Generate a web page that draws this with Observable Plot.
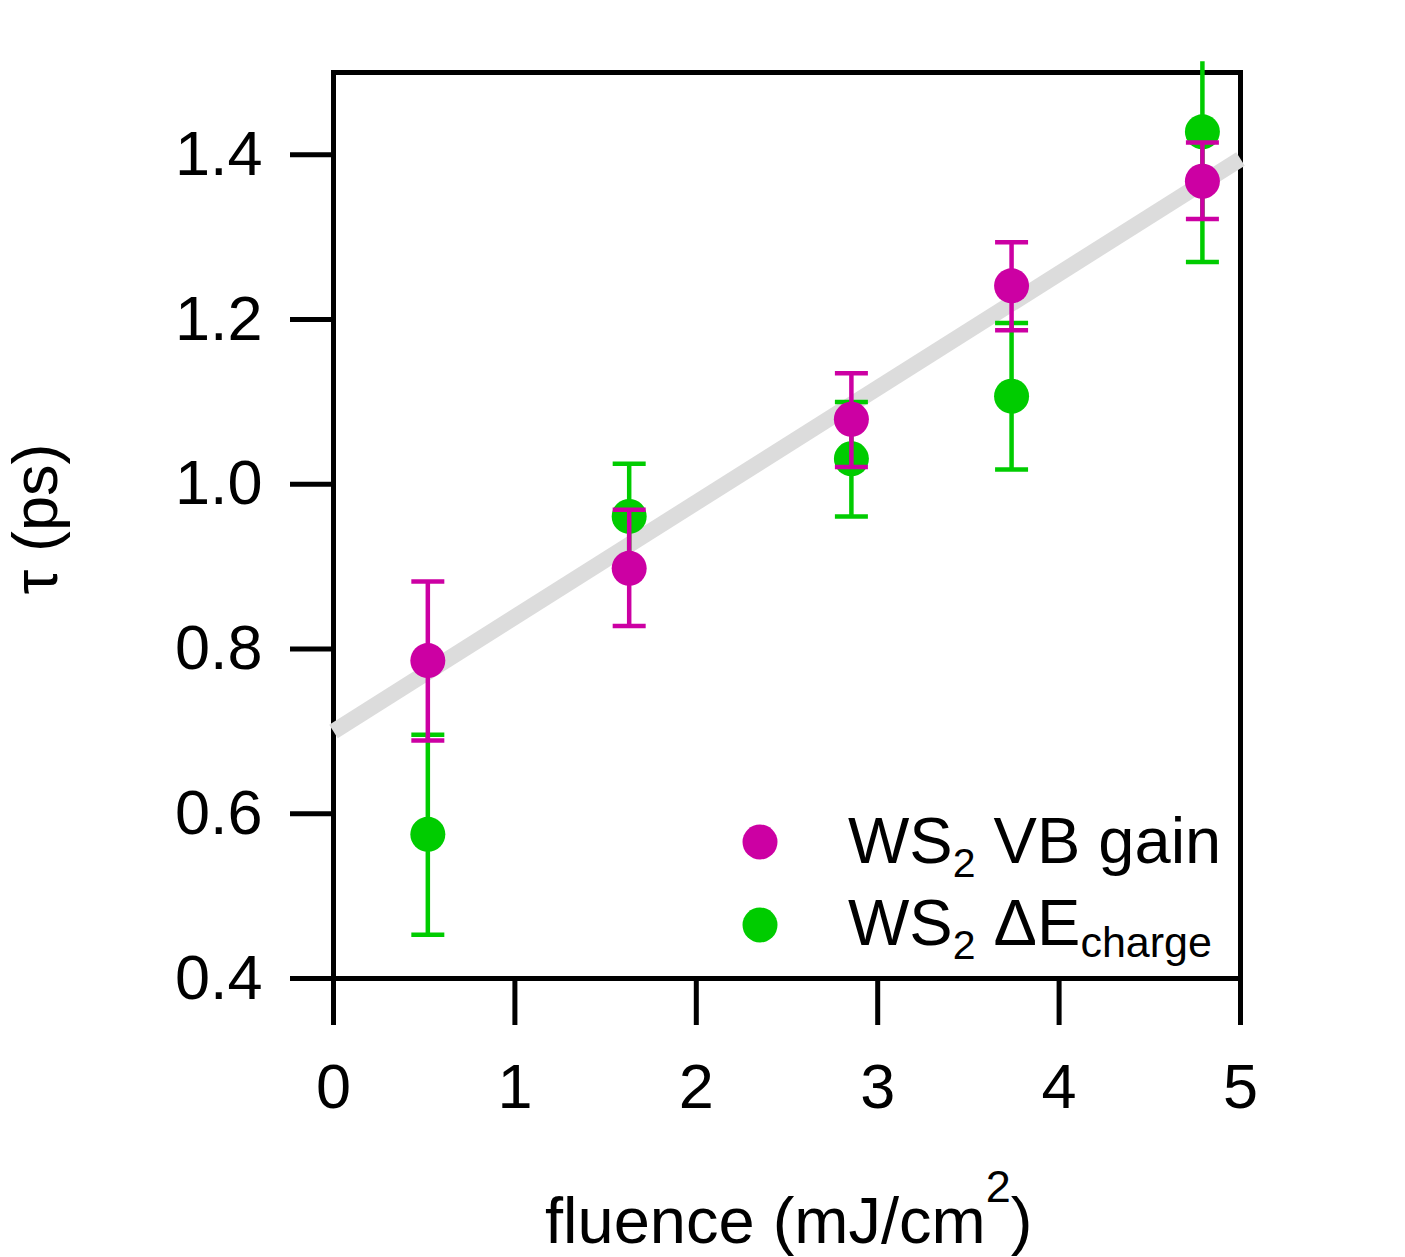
<!DOCTYPE html>
<html><head><meta charset="utf-8">
<script src="https://cdn.jsdelivr.net/npm/d3@7"></script>
<script src="https://cdn.jsdelivr.net/npm/@observablehq/plot@0.6"></script>
<style>body{margin:0;background:#fff;}</style>
</head><body><div id="chart"></div>
<script>
const fluence = [0.52, 1.63, 2.855, 3.738, 4.79];
const vbTau = [0.786, 0.898, 1.079, 1.241, 1.368];
const vbLo  = [0.689, 0.828, 1.021, 1.187, 1.322];
const vbHi  = [0.882, 0.969, 1.135, 1.294, 1.415];
const chTau = [0.575, 0.961, 1.031, 1.107, 1.428];
const chLo  = [0.453, 0.897, 0.961, 1.018, 1.270];
const chHi  = [0.696, 1.025, 1.100, 1.196, 1.513];
const fitX = [0, 5];
const fitY = [0.70, 1.395];
const xTicks = [0, 1, 2, 3, 4, 5];
const yTicks = [0.4, 0.6, 0.8, 1.0, 1.2, 1.4];

const MAG = "#cc00a3", GRN = "#00cc00";
const vb = fluence.map((x, i) => ({x, y: vbTau[i], lo: vbLo[i], hi: vbHi[i]}));
const ch = fluence.map((x, i) => ({x, y: chTau[i], lo: chLo[i], hi: chHi[i]}));
const fit = fitX.map((x, i) => ({x, y: fitY[i]}));
const yMax = 1.5;

const cap = {draw(ctx) { ctx.moveTo(-16.5, 0); ctx.lineTo(16.5, 0); }};

function errMarks(data, color) {
  return [
    Plot.ruleX(data, {x: "x", y1: "lo", y2: "hi", stroke: color, strokeWidth: 4.5}),
    Plot.dot(data.filter(d => d.hi <= yMax), {x: "x", y: "hi", symbol: cap, stroke: color, strokeWidth: 4.5, fill: "none"}),
    Plot.dot(data, {x: "x", y: "lo", symbol: cap, stroke: color, strokeWidth: 4.5, fill: "none"})
  ];
}

const svg = Plot.plot({
  width: 1405, height: 1257,
  marginLeft: 333, marginRight: 165, marginTop: 72, marginBottom: 279,
  style: {fontFamily: "Liberation Sans, Arial, sans-serif", background: "#fff", color: "#000"},
  x: {domain: [0, 5]},
  y: {domain: [0.4, yMax]},
  marks: [
    Plot.axisX({ticks: xTicks, tickSize: 47, tickPadding: 38, fontSize: 63, strokeWidth: 5, label: null, tickFormat: d3.format("d")}),
    Plot.axisY({ticks: yTicks, tickSize: 43, tickPadding: 28, fontSize: 63, strokeWidth: 5, label: null, tickFormat: d3.format(".1f")}),
    Plot.frame({stroke: "#000", strokeWidth: 5}),
    Plot.line(fit, {x: "x", y: "y", stroke: "#dcdcdc", strokeWidth: 16, strokeLinecap: "butt"}),
    ...errMarks(ch, GRN),
    Plot.dot(ch, {x: "x", y: "y", r: 17.5, fill: GRN}),
    ...errMarks(vb, MAG),
    Plot.dot(vb, {x: "x", y: "y", r: 17.5, fill: MAG})
  ]
});

const s = d3.select(svg);
const FF = "Liberation Sans, Arial, sans-serif";
// x label
const xl = s.append("text").attr("x", 545).attr("y", 1243).attr("text-anchor", "start")
  .attr("font-size", 65).attr("font-family", FF).attr("fill", "#000");
xl.append("tspan").text("fluence (mJ/cm");
xl.append("tspan").attr("font-size", 45).attr("dy", -41).text("2");
xl.append("tspan").attr("dy", 41).text(")");
// y label
s.append("text").attr("transform", "translate(57,519) rotate(-90)").attr("text-anchor", "middle")
  .attr("font-size", 63).attr("font-family", FF).attr("fill", "#000").text("τ (ps)");
// legend
const leg = [
  {c: MAG, cy: 842, base: 863, parts: [["WS", 65, 0], ["2", 41, 14], [" VB gain", 65, -14]]},
  {c: GRN, cy: 925, base: 945, parts: [["WS", 65, 0], ["2", 41, 14], [" ΔE", 65, -14], ["charge", 43, 12]]}
];
for (const l of leg) {
  s.append("circle").attr("cx", 760).attr("cy", l.cy).attr("r", 17.5).attr("fill", l.c);
  const t = s.append("text").attr("x", 848).attr("y", l.base).attr("text-anchor", "start")
    .attr("font-family", FF).attr("fill", "#000").attr("font-size", 65);
  for (const [txt, fs, dy] of l.parts) t.append("tspan").attr("font-size", fs).attr("dy", dy).text(txt);
}
document.getElementById("chart").appendChild(svg);
</script>
</body></html>
